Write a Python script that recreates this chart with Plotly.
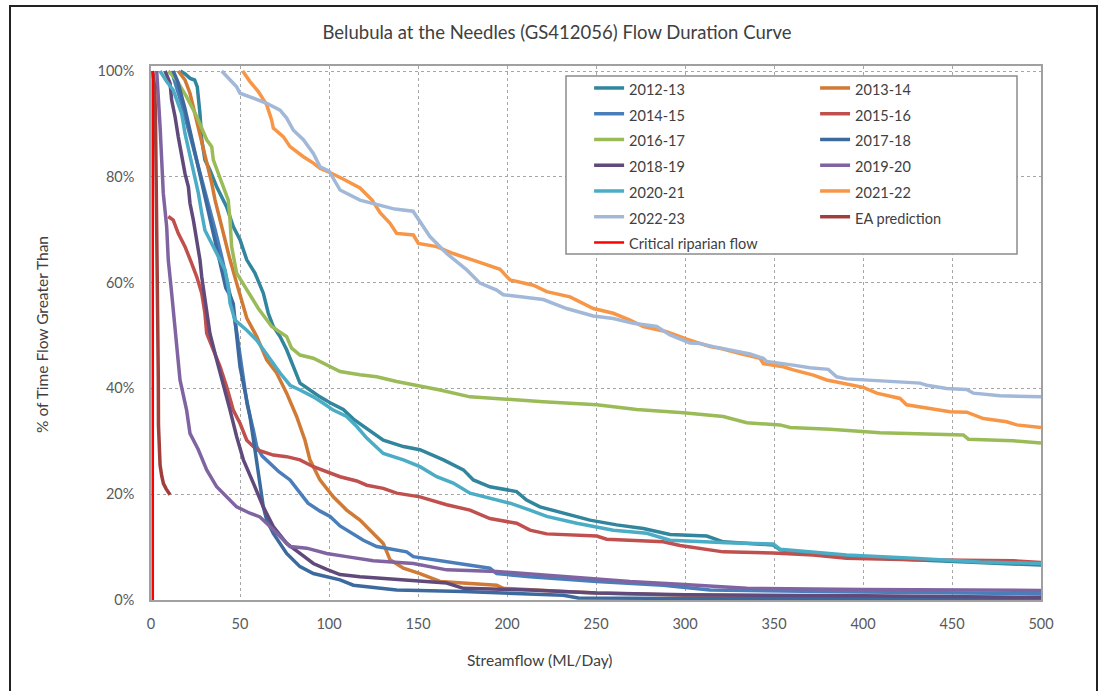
import plotly.graph_objects as go

# ---------------- data ----------------
flow_2012_13 = [16.5, 19.0, 22.0, 24.5, 26.0, 27.0, 27.5, 28.5, 30.3, 33.1, 36.9, 42.5, 46.2, 50.0, 53.8, 58.4, 63.1, 65.9, 68.7, 72.5, 76.2, 80.0, 83.7, 89.3, 94.9, 100.6, 108.0, 113.7, 119.3, 130.5, 141.8, 151.1, 164.3, 175.5, 181.1, 190.4, 205.4, 211.0, 218.5, 231.6, 246.6, 261.6, 276.6, 291.6, 312.2, 321.5, 349.6, 353.4, 390.8, 428.3, 465.7, 500]
pct_2012_13 = [100, 99.5, 98.6, 98.3, 97.0, 94.0, 92.0, 87.0, 83.2, 81.3, 78.1, 74.3, 70.6, 68.1, 64.3, 61.8, 58.0, 54.2, 51.7, 49.8, 47.3, 44.1, 41.0, 39.7, 38.4, 37.3, 36.0, 34.2, 32.8, 30.2, 29.0, 28.4, 26.5, 24.6, 22.7, 21.4, 20.5, 18.9, 17.6, 16.4, 15.1, 14.2, 13.5, 12.4, 12.1, 11.0, 10.4, 9.5, 8.2, 7.6, 7.1, 6.6]

flow_2013_14 = [15.3, 17.2, 19.1, 21.9, 24.7, 27.5, 30.3, 32.2, 34.1, 36.0, 38.8, 41.6, 44.4, 48.1, 51.0, 53.8, 59.4, 65.0, 70.6, 76.2, 81.8, 86.5, 89.3, 94.9, 102.4, 109.9, 117.4, 124.9, 130.5, 134.3, 141.8, 151.1, 162.4, 194.2, 197.9, 231.6, 250.4, 300, 400, 500]
pct_2013_14 = [100, 99.2, 98.3, 95.8, 92.0, 88.2, 84.4, 81.3, 78.8, 75.6, 71.8, 68.1, 64.3, 59.9, 56.7, 53.3, 49.8, 45.4, 42.9, 39.1, 34.7, 30.2, 26.5, 22.7, 19.5, 17.0, 15.1, 12.6, 10.7, 7.6, 6.0, 5.0, 3.5, 2.8, 2.2, 1.6, 1.3, 0.9, 0.6, 0.4]

flow_2014_15 = [11.5, 13.5, 17.0, 21.0, 25.0, 28.5, 32.0, 36.0, 40.0, 43.0, 45.5, 48.0, 50.0, 51.7, 54.0, 57.5, 59.4, 62.5, 66.9, 72.0, 78.1, 83.0, 88.2, 95.0, 100.6, 106.2, 113.0, 119.3, 126.8, 135.0, 143.6, 147.4, 166.1, 190.4, 194.2, 212.9, 250.4, 287.8, 314.0, 400, 500]
pct_2014_15 = [100, 98, 94, 89, 84, 80, 75, 70, 64.5, 60, 56, 51, 46, 41.6, 37.0, 32.1, 29.0, 27.2, 25.8, 24.2, 22.7, 20.5, 18.3, 16.8, 15.8, 14.0, 12.6, 11.3, 10.1, 9.6, 9.1, 8.2, 7.3, 6.0, 5.0, 4.4, 3.5, 2.8, 1.9, 1.5, 1.2]

flow_2015_16 = [9.7, 12.5, 15.3, 19.1, 22.9, 25.7, 28.5, 30.3, 31.3, 35.0, 38.8, 42.5, 46.2, 50.0, 53.8, 59.4, 68.7, 76.2, 83.7, 91.2, 98.7, 106.2, 115.6, 121.2, 130.5, 138.0, 151.1, 166.1, 179.2, 190.4, 205.4, 212.9, 222.3, 250.4, 256.0, 287.8, 297.2, 308.4, 321.5, 349.6, 372.1, 390.8, 428.3, 484.4, 500]
pct_2015_16 = [72.5, 71.8, 69.3, 66.8, 63.6, 61.1, 58.0, 54.2, 50.4, 47.3, 44.1, 40.3, 35.9, 33.4, 30.2, 28.4, 27.4, 27.1, 26.5, 25.2, 24.2, 23.3, 22.5, 21.7, 21.1, 20.2, 19.5, 18.0, 17.0, 15.4, 14.5, 13.2, 12.5, 12.1, 11.5, 11.0, 10.3, 9.8, 9.1, 8.9, 8.5, 7.9, 7.6, 7.4, 7.1]

flow_2016_17 = [9.7, 14.4, 20.0, 25.7, 31.3, 34.1, 35.0, 39.7, 43.4, 44.4, 45.3, 48.1, 53.8, 60.3, 67.8, 72.5, 76.2, 79.0, 83.7, 91.2, 98.7, 106.2, 117.4, 126.8, 138.0, 149.3, 162.4, 179.2, 199.8, 220.4, 250.4, 272.9, 299.1, 321.5, 334.7, 353.4, 359.0, 381.5, 409.6, 456.4, 459.2, 484.4, 500]
pct_2016_17 = [100, 98.3, 95.1, 91.4, 87.0, 85.7, 83.2, 78.8, 75.6, 71.8, 66.8, 61.8, 58.6, 55.1, 51.7, 50.7, 49.8, 47.6, 46.3, 45.7, 44.4, 43.2, 42.6, 42.2, 41.3, 40.6, 39.7, 38.4, 37.9, 37.5, 36.9, 36.0, 35.4, 34.7, 33.5, 33.1, 32.6, 32.3, 31.6, 31.2, 30.4, 30.1, 29.7]

flow_2017_18 = [12.5, 15.0, 19.0, 23.0, 27.0, 31.0, 35.0, 39.0, 42.0, 44.5, 46.2, 50.0, 55.6, 58.4, 60.3, 63.1, 65.0, 68.7, 76.2, 83.7, 91.2, 98.7, 106.2, 113.7, 128.7, 138.0, 175.5, 231.6, 240, 300, 400, 500]
pct_2017_18 = [100, 98, 93, 87, 81, 75, 69, 63.5, 59, 57.5, 56.0, 44.1, 34.7, 28.4, 24.0, 17.6, 15.1, 12.6, 8.8, 6.3, 5.0, 4.4, 3.8, 2.8, 2.3, 1.9, 1.6, 0.9, 0.4, 0.3, 0.3, 0.3]

flow_2018_19 = [7.9, 10.7, 11.6, 13.5, 15.3, 17.2, 19.1, 21.0, 21.9, 23.8, 25.7, 27.5, 28.5, 30.3, 33.1, 36.9, 40.6, 44.4, 48.1, 51.9, 57.5, 63.1, 68.7, 76.2, 83.7, 91.2, 98.7, 106.2, 117.4, 128.7, 138.0, 166.1, 175.5, 212.9, 250.4, 300, 400, 460, 500]
pct_2018_19 = [100, 97.7, 94.5, 91.4, 87.6, 83.8, 80.6, 78.1, 75.0, 71.8, 68.1, 64.3, 61.1, 56.7, 50.4, 45.4, 41.0, 35.9, 30.9, 26.5, 22.1, 17.6, 13.9, 10.7, 8.8, 6.9, 5.8, 4.8, 4.4, 4.1, 3.8, 3.2, 2.2, 1.9, 1.3, 1.0, 0.8, 0.6, 0.5]

flow_2019_20 = [3.2, 4.1, 5.1, 6.0, 6.9, 8.8, 9.7, 11.6, 12.5, 14.4, 16.3, 20.0, 21.9, 26.6, 31.3, 36.9, 42.5, 48.1, 55.6, 61.2, 66.9, 72.5, 78.1, 87.5, 98.7, 109.9, 124.9, 147.4, 166.1, 194.2, 222.3, 241.0, 269.1, 297.2, 334.7, 400, 500]
pct_2019_20 = [100, 95.8, 89.5, 83.2, 76.9, 70.6, 64.3, 58.0, 55.0, 49.1, 41.6, 35.9, 31.5, 28.4, 24.6, 21.4, 19.5, 17.6, 16.4, 15.7, 13.9, 12.0, 10.1, 9.8, 8.8, 8.2, 7.4, 6.9, 5.7, 5.4, 4.7, 4.1, 3.5, 3.0, 2.2, 2.0, 1.8]

flow_2020_21 = [5.1, 8.8, 12.5, 15.3, 17.2, 19.1, 21.9, 23.8, 26.6, 28.5, 30.3, 34.1, 37.8, 41.6, 43.4, 44.4, 47.2, 53.8, 59.4, 65.0, 68.7, 72.5, 78.1, 83.7, 91.2, 96.8, 102.4, 109.9, 115.6, 121.2, 130.5, 141.8, 151.1, 160.5, 169.8, 179.2, 190.4, 201.7, 212.9, 222.3, 239.2, 259.7, 278.5, 291.6, 323.4, 349.6, 353.4, 390.8, 428.3, 465.7, 500]
pct_2020_21 = [100, 98.0, 96.4, 93.9, 92.0, 88.2, 83.8, 80.6, 76.9, 73.1, 69.9, 67.4, 64.9, 62.4, 59.2, 56.1, 52.9, 51.0, 49.1, 46.6, 44.7, 42.9, 40.6, 39.7, 38.4, 37.2, 35.9, 34.7, 32.8, 30.6, 27.7, 26.5, 25.2, 23.3, 22.1, 20.2, 19.2, 18.3, 17.0, 15.8, 14.5, 13.2, 12.6, 11.3, 10.8, 10.6, 9.6, 8.5, 7.9, 7.2, 6.9]

flow_2021_22 = [51.5, 55.6, 60.3, 65.0, 67.8, 68.7, 74.3, 78.1, 85.6, 91.2, 94.9, 100.0, 109.0, 117.4, 124.2, 128.7, 134.3, 138.0, 147.4, 150.2, 160.5, 169.8, 183.0, 196.1, 201.7, 214.8, 222.3, 235.4, 248.5, 259.7, 269.1, 276.6, 289.7, 301.0, 314.0, 319.7, 330.9, 342.1, 344.0, 355.2, 360.8, 372.1, 379.6, 389.0, 400.2, 407.7, 420.8, 424.5, 439.5, 448.9, 458.3, 467.6, 480.7, 486.3, 500]
pct_2021_22 = [100, 98.0, 96.1, 93.6, 90.7, 89.2, 87.6, 85.7, 83.8, 82.6, 81.6, 80.9, 79.4, 77.9, 75.6, 73.2, 71.2, 69.3, 69.0, 67.4, 66.8, 65.5, 64.0, 62.5, 60.5, 59.5, 58.3, 57.3, 55.1, 54.2, 52.9, 51.7, 50.7, 49.3, 47.9, 47.6, 46.6, 45.7, 44.7, 44.1, 43.5, 42.5, 41.6, 41.0, 40.2, 39.1, 38.1, 36.9, 36.2, 35.6, 35.5, 34.3, 33.7, 33.1, 32.6]

flow_2022_23 = [39.7, 48.1, 50.0, 58.4, 65.0, 72.5, 76.2, 80.0, 85.6, 91.2, 95.0, 100.0, 106.2, 117.4, 128.7, 137.0, 147.2, 149.3, 156.7, 166.1, 177.4, 184.8, 194.2, 197.9, 209.2, 220.4, 233.5, 248.5, 259.7, 271.0, 284.1, 291.6, 302.8, 308.4, 315.9, 325.3, 336.5, 344.0, 345.9, 360.8, 370.2, 380.5, 385.2, 390.8, 420.8, 432.0, 435.8, 447.0, 458.3, 462.0, 477.0, 500]
pct_2022_23 = [100, 97.0, 95.8, 94.8, 93.9, 92.6, 91.1, 88.8, 87.0, 84.4, 81.9, 81.1, 77.5, 75.6, 74.7, 73.9, 73.5, 72.5, 68.7, 65.5, 62.4, 59.9, 58.6, 57.7, 57.2, 56.8, 55.1, 53.7, 53.2, 52.3, 51.7, 50.1, 48.6, 48.5, 47.9, 47.3, 46.5, 45.7, 45.1, 44.4, 43.9, 43.6, 42.2, 41.8, 41.3, 41.0, 40.6, 40.0, 39.8, 39.1, 38.6, 38.4]

flow_ea = [1.0, 2.0, 2.5, 3.0, 3.5, 4.0, 4.1, 4.2, 4.5, 5.1, 6.0, 7.0, 8.5, 10.7]
pct_ea = [100, 97, 92, 80, 65, 55, 42, 33, 28, 25.5, 23.5, 22.0, 21.0, 19.9]

flow_critical = [1.0, 1.0]
pct_critical = [0, 100]

series_names = ["2012-13", "2013-14", "2014-15", "2015-16", "2016-17", "2017-18",
                "2018-19", "2019-20", "2020-21", "2021-22", "2022-23",
                "EA prediction", "Critical riparian flow"]
series_flows = [flow_2012_13, flow_2013_14, flow_2014_15, flow_2015_16, flow_2016_17,
                flow_2017_18, flow_2018_19, flow_2019_20, flow_2020_21, flow_2021_22,
                flow_2022_23, flow_ea, flow_critical]
series_pcts = [pct_2012_13, pct_2013_14, pct_2014_15, pct_2015_16, pct_2016_17,
               pct_2017_18, pct_2018_19, pct_2019_20, pct_2020_21, pct_2021_22,
               pct_2022_23, pct_ea, pct_critical]
series_colors = ["#31859C", "#D07A35", "#4A7EBB", "#C0504D", "#9BBB59", "#3D6A9E",
                 "#604A7B", "#8064A2", "#4BACC6", "#F79646", "#A2B8D8",
                 "#A03E3C", "#FF0000"]
series_widths = [3.5] * 12 + [2.5]

x_ticks = [0, 50, 100, 150, 200, 250, 300, 350, 400, 450, 500]
y_ticks = [0, 20, 40, 60, 80, 100]

# ---------------- layout geometry ----------------
W, H = 1099, 691
ML, MR, MT, MB = 151, 58, 66, 91
PW, PH = W - ML - MR, H - MT - MB
Y_TOP = 100 * PH / 529.0  # 100% sits a few px below frame top


def px_x(px):
    return (px - ML) / PW


def px_y(py):
    return (H - MB - py) / PH


FONT = "Lato, 'Open Sans', sans-serif"
TXT = "#404040"

fig = go.Figure()
for name, fx, fy, col, lw in zip(series_names, series_flows, series_pcts,
                                 series_colors, series_widths):
    fig.add_trace(go.Scatter(
        x=fx, y=fy, mode="lines",
        name='<span style="font-size:14.5px">' + name + '</span>',
        line=dict(color=col, width=lw),
        hoverinfo="skip",
    ))

axis_common = dict(
    showline=True, mirror=True, linecolor="#A0A0A0", linewidth=1.5,
    showgrid=True, gridcolor="#A6A6A6", gridwidth=1, griddash="3px,3px",
    zeroline=False, ticks="", tickfont=dict(family=FONT, size=14.5, color="#595959"),
)

fig.update_xaxes(range=[0, 500], tickmode="array", tickvals=x_ticks,
                 ticklabelstandoff=10, **axis_common)
fig.update_yaxes(range=[0, Y_TOP], tickmode="array", tickvals=y_ticks,
                 ticktext=[f"{v}%" for v in y_ticks], ticklabelstandoff=12,
                 **axis_common)

fig.update_layout(
    width=W, height=H,
    margin=dict(l=ML, r=MR, t=MT, b=MB, autoexpand=False),
    paper_bgcolor="white", plot_bgcolor="white",
    font=dict(family=FONT, color=TXT),
    title=dict(text="Belubula at the Needles (GS412056) Flow Duration Curve",
               x=557 / W, xref="container", xanchor="center",
               y=1 - 33 / H, yref="container", yanchor="middle",
               font=dict(family=FONT, size=18.5, color=TXT)),
    showlegend=True,
    legend=dict(orientation="h", x=1.0001, xanchor="right",
                y=px_y(70.1), yanchor="top",
                entrywidth=181, entrywidthmode="pixels",
                bgcolor="rgba(0,0,0,0)", borderwidth=0,
                font=dict(family=FONT, size=17.5, color=TXT),
                traceorder="normal"),
    annotations=[
        dict(text="% of Time Flow Greater Than", xref="paper", yref="paper",
             x=px_x(42), y=px_y(335), textangle=-90, showarrow=False,
             xanchor="center", yanchor="middle",
             font=dict(family=FONT, size=15.5, color=TXT)),
        dict(text="Streamflow (ML/Day)", xref="paper", yref="paper",
             x=px_x(539), y=px_y(660), showarrow=False,
             xanchor="center", yanchor="middle",
             font=dict(family=FONT, size=15.5, color=TXT)),
    ],
    shapes=[
        # legend box
        dict(type="rect", xref="paper", yref="paper",
             x0=px_x(566), x1=px_x(1017), y0=px_y(254), y1=px_y(76),
             fillcolor="white", line=dict(color="#8C8C8C", width=1.5),
             layer="above"),
        # outer chart border
        dict(type="rect", xref="paper", yref="paper",
             x0=px_x(10), x1=px_x(1097), y0=px_y(700), y1=px_y(6),
             fillcolor="rgba(0,0,0,0)", line=dict(color="#222222", width=2),
             layer="above"),
    ],
)

fig.write_html("out.html")
